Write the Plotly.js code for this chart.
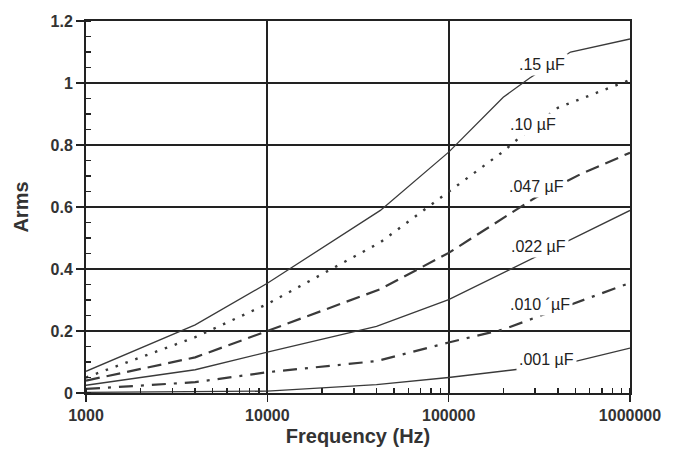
<!DOCTYPE html>
<html>
<head>
<meta charset="utf-8">
<script src="https://cdn.plot.ly/plotly-3.0.1.min.js"></script>
<style>html,body{margin:0;padding:0;background:#fff;}#chart{width:682px;height:455px;}</style>
</head>
<body>
<div id="chart"></div>
<script>
// Frequency (Hz) and Arms values per capacitor curve
const f15 = [1000, 4000, 10000, 42000, 100000, 200000, 280000, 470000, 1000000];
const a15 = [0.07, 0.22, 0.354, 0.589, 0.777, 0.954, 1.016, 1.10, 1.142];

const f10 = [1000, 4000, 10000, 42000, 100000, 200000, 230000, 400000, 1000000];
const a10 = [0.05, 0.18, 0.287, 0.486, 0.649, 0.779, 0.81, 0.92, 1.01];

const f047 = [1000, 4000, 10000, 42000, 100000, 300000, 530000, 1000000];
const a047 = [0.04, 0.115, 0.2, 0.335, 0.452, 0.63, 0.705, 0.775];

const f022 = [1000, 4000, 10000, 40000, 100000, 1000000];
const a022 = [0.025, 0.075, 0.132, 0.215, 0.301, 0.589];

const f010 = [1000, 4000, 10000, 40000, 100000, 200000, 400000, 1000000];
const a010 = [0.013, 0.035, 0.067, 0.103, 0.163, 0.205, 0.27, 0.355];

const f001 = [1000, 10000, 40000, 100000, 230000, 500000, 1000000];
const a001 = [0.002, 0.006, 0.027, 0.05, 0.075, 0.102, 0.145];

// Curve labels
const labelText = [".15 µF", ".10 µF", ".047 µF", ".022 µF", ".010 ´µF", ".001 µF"];
const labelX = [326000, 293000, 306000, 313000, 319000, 347000];
const labelY = [1.059, 0.866, 0.666, 0.473, 0.285, 0.108];

// Axis ticks
const xTickVals = [1000, 10000, 100000, 1000000];
const xTickText = ["1000", "10000", "100000", "1000000"];
const yTickVals = [0, 0.2, 0.4, 0.6, 0.8, 1.0, 1.2];
const yTickText = ["0", "0.2", "0.4", "0.6", "0.8", "1", "1.2"];

const lineCol = '#3a3a3a';
const traces = [
  {x: f15, y: a15, line: {color: lineCol, width: 1.3}},
  {x: f10, y: a10, line: {color: lineCol, width: 2.4, dash: '2.5px,8px'}},
  {x: f047, y: a047, line: {color: lineCol, width: 2.2, dash: '14px,7px'}},
  {x: f022, y: a022, line: {color: lineCol, width: 1.3}},
  {x: f010, y: a010, line: {color: lineCol, width: 2.2, dash: '14px,8px,3px,8px'}},
  {x: f001, y: a001, line: {color: lineCol, width: 1.3}}
].map(t => Object.assign({type: 'scatter', mode: 'lines', hoverinfo: 'none'}, t));

const annotations = labelText.map((t, i) => ({
  x: Math.log10(labelX[i]), y: labelY[i], xref: 'x', yref: 'y',
  text: t, showarrow: false, bgcolor: '#ffffff', borderpad: 2,
  font: {family: 'Liberation Sans, Arial, sans-serif', size: 16, color: '#222'}
}));

const gridCol = '#222';
const layout = {
  width: 682, height: 455,
  margin: {l: 86, r: 52, t: 21, b: 62},
  paper_bgcolor: '#fff', plot_bgcolor: '#fff',
  showlegend: false,
  font: {family: 'Liberation Sans, Arial, sans-serif', color: '#333'},
  xaxis: {
    type: 'log', range: [3, 6],
    tickvals: xTickVals, ticktext: xTickText,
    tickfont: {size: 16, color: '#333', weight: 'bold'},
    ticks: 'outside', ticklen: 7, tickwidth: 1.6, tickcolor: gridCol,
    showgrid: true, gridcolor: gridCol, gridwidth: 2,
    showline: true, linecolor: gridCol, linewidth: 2, mirror: true,
    zeroline: false,
    minor: {dtick: 'D1', ticks: 'inside', ticklen: 5, tickwidth: 1.4, tickcolor: gridCol, showgrid: false},
    title: {text: 'Frequency (Hz)', font: {size: 20, color: '#333', weight: 'bold'}, standoff: 6}
  },
  yaxis: {
    range: [0, 1.2],
    tickvals: yTickVals, ticktext: yTickText,
    tickfont: {size: 16, color: '#333', weight: 'bold'},
    ticks: 'outside', ticklen: 8, tickwidth: 1.6, tickcolor: gridCol,
    showgrid: true, gridcolor: gridCol, gridwidth: 2,
    showline: true, linecolor: gridCol, linewidth: 2, mirror: true,
    zeroline: false,
    minor: {dtick: 0.05, ticks: 'inside', ticklen: 5, tickwidth: 1.4, tickcolor: gridCol, showgrid: false},
    title: {text: 'Arms', font: {size: 20, color: '#333', weight: 'bold'}, standoff: 17}
  },
  annotations: annotations
};

Plotly.newPlot('chart', traces, layout, {staticPlot: true, displayModeBar: false});
</script>
</body>
</html>
